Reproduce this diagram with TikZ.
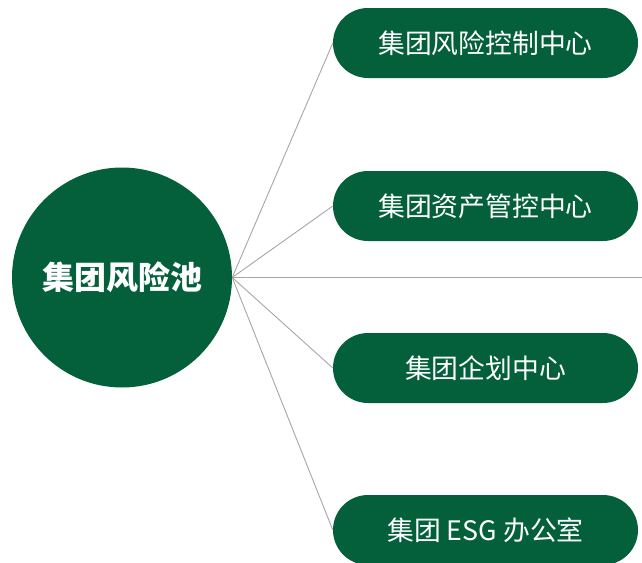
\documentclass[tikz,border=0pt]{standalone}
\usepackage{fontspec}
\setmainfont{Noto Sans CJK SC}
\definecolor{dgreen}{HTML}{03603B}
\definecolor{lgray}{HTML}{A6A6A6}
\begin{document}
\begin{tikzpicture}[x=1pt,y=-1pt,
  hub/.style={circle,fill=dgreen,minimum size=220pt,inner sep=0pt,text=white,font=\fontsize{32}{36}\selectfont\bfseries},
  pill/.style={rectangle,fill=dgreen,minimum width=305pt,minimum height=70pt,rounded corners=35pt,inner sep=0pt,text=white,font=\fontsize{26.8}{30}\selectfont},
  link/.style={draw=lgray,line width=0.9pt}]
\useasboundingbox (0,0) rectangle (642,562);
\node[hub] (c) at (122,277.5) {集团风险池};
\node[pill] (b1) at (485.5,43) {集团风险控制中心};
\node[pill] (b2) at (485.5,206) {集团资产管控中心};
\coordinate (b3) at (642,277.5);
\node[pill] (b4) at (485.5,368) {集团企划中心};
\node[pill] (b5) at (485.5,530) {集团 ESG 办公室};
\draw[link] (c.east) -- (b1.west);
\draw[link] (c.east) -- (b2.west);
\draw[link] (c.east) -- (b3);
\draw[link] (c.east) -- (b4.west);
\draw[link] (c.east) -- (b5.west);
\end{tikzpicture}
\end{document}
